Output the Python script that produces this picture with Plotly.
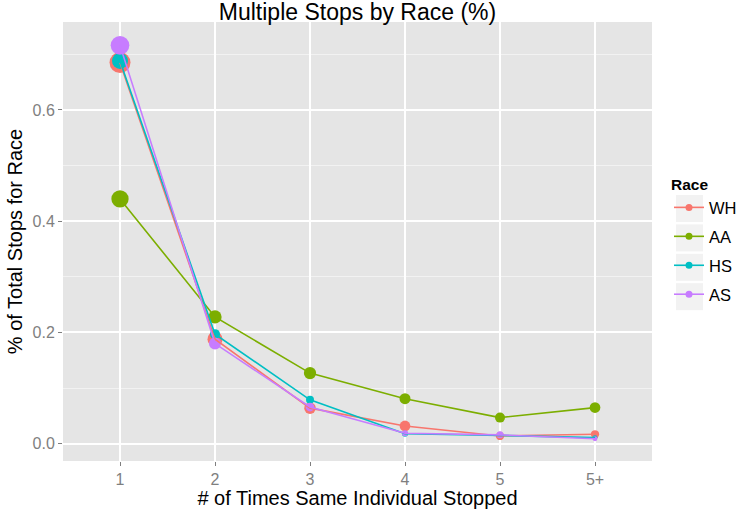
import plotly.graph_objects as go
import numpy as np

categories = ["1", "2", "3", "4", "5", "5+"]
races = ["WH", "AA", "HS", "AS"]
# share of total stops for each race
wh = [0.685, 0.188, 0.064, 0.032, 0.014, 0.017]
aa = [0.440, 0.228, 0.127, 0.081, 0.047, 0.065]
hs = [0.688, 0.197, 0.079, 0.018, 0.015, 0.011]
as_ = [0.716, 0.180, 0.066, 0.019, 0.016, 0.009]
# relative weight (0..1) of each point, mapped to point area
wh_w = [1.000, 0.432, 0.209, 0.169, 0.075, 0.075]
aa_w = [0.622, 0.314, 0.253, 0.184, 0.138, 0.169]
hs_w = [0.510, 0.138, 0.066, 0.020, 0.007, 0.007]
as_w = [0.755, 0.236, 0.088, 0.020, 0.040, 0.007]
colors = ["#F8766D", "#7CAE00", "#00BFC4", "#C77CFF"]
series = [wh, aa, hs, as_]
weights = [wh_w, aa_w, hs_w, as_w]

def msize(w):
    # ggplot-like area scale, size range 1..6
    return 3.5 * (1 + 5 * np.sqrt(np.array(w)))

fig = go.Figure()
# points
for name, vals, w, c in zip(races, series, weights, colors):
    fig.add_trace(go.Scatter(x=categories, y=vals, mode="markers",
                             marker=dict(color=c, size=msize(w), opacity=1,
                                         line=dict(width=0)),
                             showlegend=False, name=name))
# lines (drawn over the points)
for name, vals, c in zip(races, series, colors):
    fig.add_trace(go.Scatter(x=categories, y=vals, mode="lines",
                             line=dict(color=c, width=1.6), showlegend=False,
                             hoverinfo="skip"))
# legend entries
for name, c in zip(races, colors):
    fig.add_trace(go.Scatter(x=[None], y=[None], mode="lines+markers", name=name,
                             legendgroup=name,
                             line=dict(color=c, width=1.6),
                             marker=dict(color=c, size=7, opacity=1)))

W, H = 738, 509
L, R, T, B = 63, 86, 22, 48
pw, ph = W - L - R, H - T - B

def px2paper_x(x):
    return (x - L) / pw

def px2paper_y(y):
    return (H - B - y) / ph

shapes = []
for i in range(4):
    y0 = 195 + i * 29.4
    shapes.append(dict(type="rect", xref="paper", yref="paper",
                       x0=px2paper_x(676), x1=px2paper_x(703),
                       y0=px2paper_y(y0 + 27), y1=px2paper_y(y0),
                       fillcolor="#F2F2F2", line=dict(width=0), layer="below"))

fig.update_layout(
    width=W, height=H,
    margin=dict(l=L, r=R, t=T, b=B, autoexpand=False),
    paper_bgcolor="white",
    plot_bgcolor="#E5E5E5",
    font=dict(family="Liberation Sans, Arial, sans-serif", color="black"),
    title=dict(text="Multiple Stops by Race (%)", x=0.5, xref="paper",
               y=1 - 12 / H, yanchor="middle", xanchor="center",
               font=dict(size=23, color="black")),
    xaxis=dict(type="category", range=[-0.6, 5.6], automargin=False,
               showgrid=True, gridcolor="white", gridwidth=1.5,
               zeroline=False, ticks="outside", ticklen=4, tickcolor="#7F7F7F",
               tickfont=dict(size=16, color="#7F7F7F"),
               title=dict(text="# of Times Same Individual Stopped",
                          font=dict(size=20, color="black"), standoff=2),
               showline=False),
    yaxis=dict(range=[-0.031, 0.758], tick0=0, dtick=0.2, tickformat=".1f",
               automargin=False,
               showgrid=True, gridcolor="white", gridwidth=1.5,
               zeroline=False, ticks="outside", ticklen=4, tickcolor="#7F7F7F",
               tickfont=dict(size=16, color="#7F7F7F"),
               minor=dict(dtick=0.1, tick0=0, showgrid=True, gridcolor="#F2F2F2",
                          gridwidth=0.8, ticks=""),
               title=dict(text="% of Total Stops for Race",
                          font=dict(size=20, color="black"), standoff=4),
               showline=False),
    legend=dict(x=px2paper_x(669), y=px2paper_y(170), xanchor="left", yanchor="top",
                bgcolor="rgba(0,0,0,0)",
                title=dict(text="<b>Race</b>", font=dict(size=15.5)),
                font=dict(size=16.5), tracegroupgap=4.5, itemwidth=30),
    shapes=shapes,
)

fig.write_html("out.html", config={"displayModeBar": False},
               post_script="document.body.style.margin='0';document.body.style.overflow='hidden';")
